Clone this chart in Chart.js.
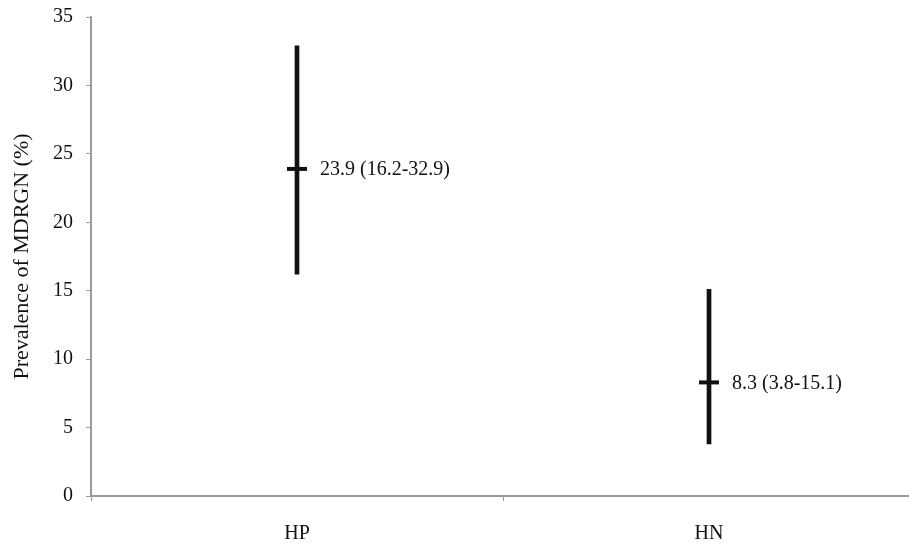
<!DOCTYPE html>
<html><head><meta charset="utf-8">
<script src="https://cdn.jsdelivr.net/npm/chart.js@4/dist/chart.umd.min.js"></script>
<style>html,body{margin:0;padding:0;background:#fff;overflow:hidden;width:909px;height:549px}#wrap{position:absolute;left:0;top:0;width:929px;height:549px}</style>
</head><body><div id="wrap"><canvas id="c" width="929" height="549" style="width:929px;height:549px"></canvas></div>
<script>
const categories = ["HP", "HN"];
const means = [23.9, 8.3];
const lows = [16.2, 3.8];
const highs = [32.9, 15.1];
const yTicks = [0, 5, 10, 15, 20, 25, 30, 35];
const yTitle = "Prevalence of MDRGN (%)";

const serif = "'Liberation Serif', 'Times New Roman', serif";
const labelPlugin = {
  id: 'ciLabels',
  afterDatasetsDraw(chart) {
    const ctx = chart.ctx, xs = chart.scales.x, ys = chart.scales.y;
    ctx.save();
    ctx.font = "20px " + serif;
    ctx.fillStyle = "#111";
    ctx.textBaseline = "middle";
    ctx.textAlign = "left";
    categories.forEach((c, i) => {
      const x = xs.getPixelForValue(i) + 23;
      const y = ys.getPixelForValue(means[i]);
      ctx.fillText(means[i].toFixed(1) + " (" + lows[i].toFixed(1) + "-" + highs[i].toFixed(1) + ")", x, y + 1);
    });
    ctx.restore();
  }
};

new Chart(document.getElementById('c'), {
  type: 'bar',
  data: {
    labels: categories,
    datasets: [
      {
        type: 'bar',
        data: categories.map((c, i) => [lows[i], highs[i]]),
        backgroundColor: '#111',
        borderWidth: 0,
        barThickness: 4,
        grouped: false,
        order: 2
      },
      {
        type: 'line',
        data: means,
        showLine: false,
        pointStyle: 'line',
        pointRadius: 10,
        pointBorderWidth: 4,
        pointBorderColor: '#111',
        pointBackgroundColor: '#111',
        order: 1
      }
    ]
  },
  plugins: [labelPlugin],
  options: {
    responsive: false,
    animation: false,
    events: [],
    layout: { padding: { top: 17, right: 0, bottom: 0, left: 0 } },
    plugins: { legend: { display: false }, tooltip: { enabled: false } },
    scales: {
      x: {
        type: 'category',
        offset: true,
        grid: { offset: true, drawOnChartArea: false, drawTicks: true, tickLength: 5, color: '#999', lineWidth: 1 },
        border: { color: '#999', width: 2 },
        ticks: { color: '#111', font: { family: serif, size: 20 }, padding: 21, maxRotation: 0 },
        afterFit(s) { s.height = 53; s.paddingLeft = 0; s.paddingRight = 0; }
      },
      y: {
        min: 0, max: 35,
        afterBuildTicks(s) { s.ticks = yTicks.map(v => ({ value: v })); },
        grid: { drawOnChartArea: false, drawTicks: true, tickLength: 5, color: '#999', lineWidth: 1 },
        border: { color: '#999', width: 2 },
        ticks: { color: '#111', font: { family: serif, size: 20 }, padding: 13 },
        title: { display: true, text: yTitle, color: '#111', font: { family: serif, size: 22 }, padding: { top: 9, bottom: 0 } },
        afterFit(s) { s.width = 91; s.paddingTop = 0; s.paddingBottom = 0; }
      }
    }
  }
});
</script>
</body></html>
